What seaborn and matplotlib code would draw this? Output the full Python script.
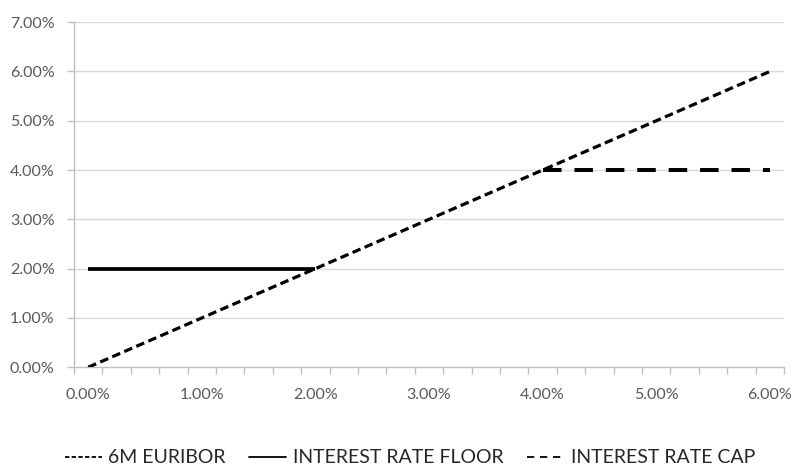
import numpy as np
import pandas as pd
import matplotlib
matplotlib.use("Agg")
import matplotlib.pyplot as plt
from matplotlib.lines import Line2D
from matplotlib.ticker import FixedLocator, FuncFormatter
import seaborn as sns

# Reference rate grid (in %)
rate = [0.00, 0.25, 0.50, 0.75, 1.00, 1.25, 1.50, 1.75, 2.00, 2.25, 2.50, 2.75,
        3.00, 3.25, 3.50, 3.75, 4.00, 4.25, 4.50, 4.75, 5.00, 5.25, 5.50, 5.75, 6.00]
euribor = [0.00, 0.25, 0.50, 0.75, 1.00, 1.25, 1.50, 1.75, 2.00, 2.25, 2.50, 2.75,
           3.00, 3.25, 3.50, 3.75, 4.00, 4.25, 4.50, 4.75, 5.00, 5.25, 5.50, 5.75, 6.00]
floor = [2.00, 2.00, 2.00, 2.00, 2.00, 2.00, 2.00, 2.00, 2.00] + [None] * 16
cap = [None] * 16 + [4.00, 4.00, 4.00, 4.00, 4.00, 4.00, 4.00, 4.00, 4.00]
x_labels = ["0.00%", "1.00%", "2.00%", "3.00%", "4.00%", "5.00%", "6.00%"]
y_ticks = [0, 1, 2, 3, 4, 5, 6, 7]

df = pd.DataFrame({"rate": rate,
                   "euribor": euribor,
                   "floor": pd.array(floor, dtype="Float64").astype(float),
                   "cap": pd.array(cap, dtype="Float64").astype(float)})

sns.set_theme(style="white")
plt.rcParams["font.family"] = ["Lato", "DejaVu Sans"]

fig = plt.figure(figsize=(7.96, 4.72), dpi=100)
ax = fig.add_axes([0.093, 0.222, 0.892, 0.731])

grid_col = "#d9d9d9"
for y in y_ticks[1:]:
    ax.axhline(y, color=grid_col, lw=1.0, zorder=0)

sns.lineplot(data=df, x="rate", y="floor", ax=ax, color="black", lw=2.7,
             solid_capstyle="butt", zorder=3)
sns.lineplot(data=df, x="rate", y="cap", ax=ax, color="black", lw=2.9,
             dashes=False, zorder=3).lines[-1].set_dashes((4.6, 3.2))
sns.lineplot(data=df, x="rate", y="euribor", ax=ax, color="black", lw=2.3,
             zorder=4).lines[-1].set_dashes((2.7, 1.4))

ax.set_xlim(-0.125, 6.125)
ax.set_ylim(0, 7)
ax.set_xlabel("")
ax.set_ylabel("")

for s in ["top", "right"]:
    ax.spines[s].set_visible(False)
ax.spines["left"].set_color("#bfbfbf")
ax.spines["left"].set_linestyle((0, (1, 1)))
ax.spines["left"].set_linewidth(1.0)
ax.spines["bottom"].set_color("#bfbfbf")
ax.spines["bottom"].set_linewidth(1.0)

# y axis
ax.yaxis.set_major_locator(FixedLocator(y_ticks))
ax.yaxis.set_major_formatter(FuncFormatter(lambda v, p: f"{v:.2f}%"))
ax.tick_params(axis="y", length=5, color="#bfbfbf", width=1, labelsize=11.5,
               labelcolor="#595959", pad=9, left=True, direction="out")

# x axis: labels at category centres, tick marks at category boundaries
ax.xaxis.set_major_locator(FixedLocator([0, 1, 2, 3, 4, 5, 6]))
ax.set_xticklabels(x_labels)
ax.tick_params(axis="x", which="major", length=0, labelsize=11.5,
               labelcolor="#595959", pad=15)
bounds = [-0.125 + 0.25 * k for k in range(26)]
ax.xaxis.set_minor_locator(FixedLocator(bounds))
ax.tick_params(axis="x", which="minor", length=5, color="#bfbfbf", width=1,
               bottom=True, direction="out")

handles = [
    Line2D([], [], color="black", lw=1.3, dashes=(2.4, 1.3)),
    Line2D([], [], color="black", lw=1.3),
    Line2D([], [], color="black", lw=1.3, dashes=(4.0, 3.2)),
]
labels = ["6M EURIBOR", "INTEREST RATE FLOOR", "INTEREST RATE CAP"]
fig.legend(handles, labels, loc="center", bbox_to_anchor=(0.515, 0.03), ncol=3,
           frameon=False, fontsize=14, handlelength=1.9, handletextpad=0.35,
           columnspacing=1.2, labelcolor="#262626", borderpad=0)

fig.savefig("out.png", dpi=100, facecolor="white")
